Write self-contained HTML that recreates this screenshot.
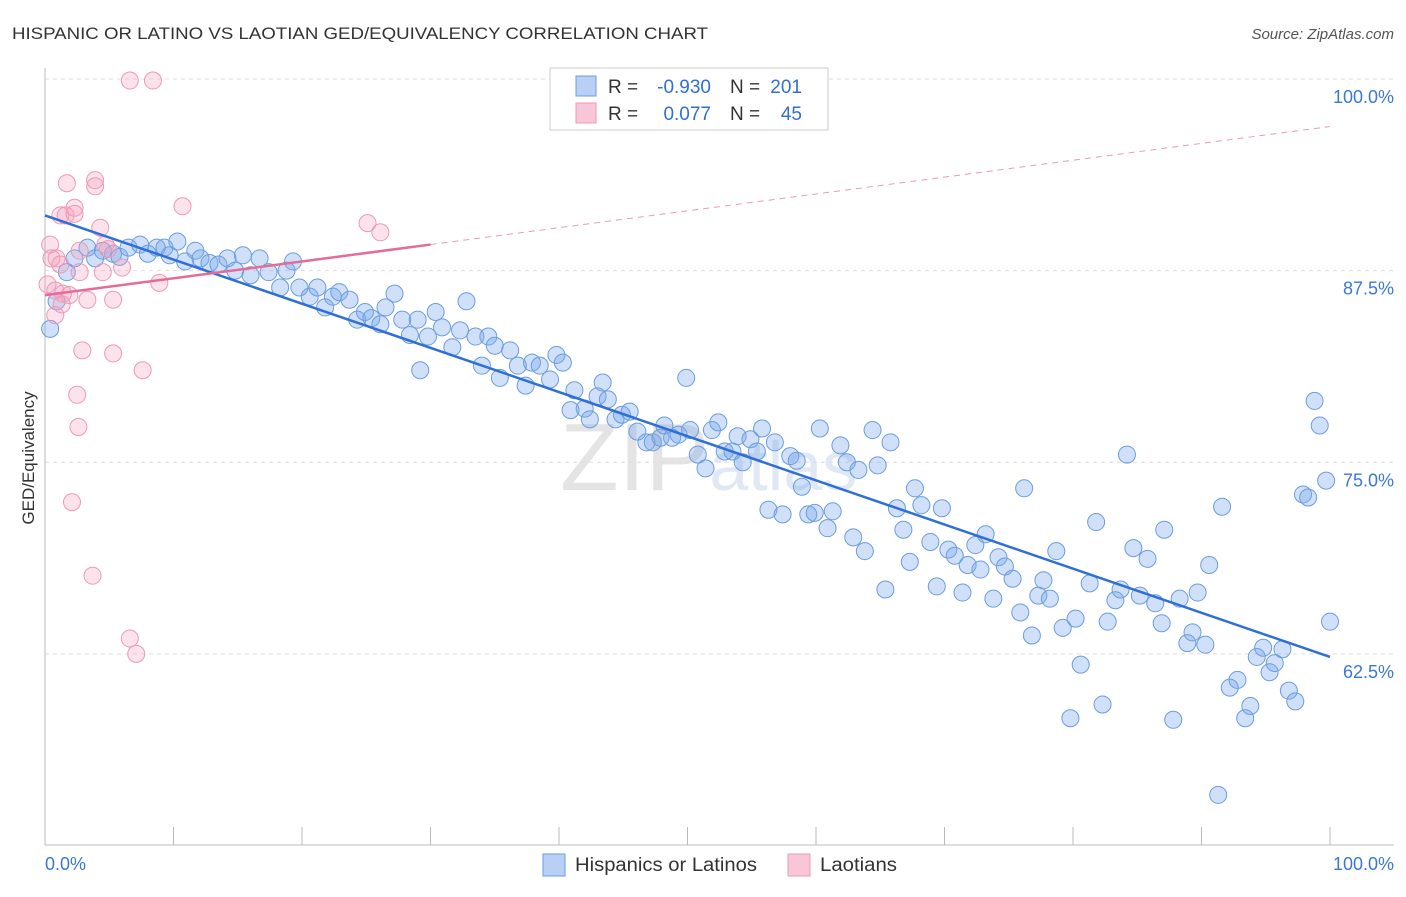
<!DOCTYPE html>
<html><head><meta charset="utf-8"><style>
body{margin:0;background:#fff;font-family:"Liberation Sans",sans-serif;}
svg text{font-family:"Liberation Sans",sans-serif;}
</style></head><body>
<svg id="chart" width="1406" height="892">
<text x="12" y="39" font-size="17" fill="#333" textLength="696" lengthAdjust="spacingAndGlyphs">HISPANIC OR LATINO VS LAOTIAN GED/EQUIVALENCY CORRELATION CHART</text>
<text x="1394" y="39" font-size="15" fill="#555" font-style="italic" text-anchor="end">Source: ZipAtlas.com</text>
<text x="560" y="490" font-size="96" fill="#e4e4e4" font-family="Liberation Serif">ZIP<tspan fill="#dfe8f4" font-family="Liberation Sans" font-size="70">atlas</tspan></text>
<g id="grid"></g>
<g id="axes"></g>
<g id="pts"></g>
<g id="trend"></g>
<text transform="translate(34,458) rotate(-90)" font-size="17" fill="#333" text-anchor="middle">GED/Equivalency</text>
<text x="45" y="870" font-size="18" fill="#3a78d8">0.0%</text>
<text x="1394" y="870" font-size="18" fill="#3a78d8" text-anchor="end">100.0%</text>
<g>
<rect x="550" y="68" width="278" height="62" fill="#fff" stroke="#ccc"/>
<rect x="576" y="76" width="20" height="20" fill="#b7d0f3" stroke="#6b9de0"/>
<rect x="576" y="103" width="20" height="20" fill="#f8c6d6" stroke="#ec9ab5"/>
<text x="608" y="93" font-size="19" fill="#333">R =</text>
<text x="711" y="93" font-size="19" fill="#2f6fd6" text-anchor="end">-0.930</text>
<text x="730" y="93" font-size="19" fill="#333">N =</text>
<text x="802" y="93" font-size="19" fill="#2f6fd6" text-anchor="end">201</text>
<text x="608" y="120" font-size="19" fill="#333">R =</text>
<text x="711" y="120" font-size="19" fill="#2f6fd6" text-anchor="end">0.077</text>
<text x="730" y="120" font-size="19" fill="#333">N =</text>
<text x="802" y="120" font-size="19" fill="#2f6fd6" text-anchor="end">45</text>
</g>
<g>
<rect x="543" y="854" width="22" height="22" fill="#b7d0f3" stroke="#6b9de0"/>
<text x="575" y="871" font-size="19" fill="#333" textLength="182" lengthAdjust="spacingAndGlyphs">Hispanics or Latinos</text>
<rect x="788" y="854" width="22" height="22" fill="#f8c6d6" stroke="#ec9ab5"/>
<text x="820" y="871" font-size="19" fill="#333" textLength="77" lengthAdjust="spacingAndGlyphs">Laotians</text>
</g>
</svg>
<script>
const blueX=[0.4,0.9,1.7,2.3,3.3,3.9,4.5,5.3,5.8,6.5,7.4,8.0,8.7,9.3,9.7,10.3,10.9,11.7,12.1,12.8,13.5,14.2,14.8,15.4,16.0,16.7,17.4,18.3,18.8,19.3,19.8,20.6,21.2,21.8,22.4,22.9,23.7,24.3,24.9,25.4,26.1,26.5,27.2,27.8,28.4,29.2,29.0,29.8,30.4,30.9,31.7,32.3,32.8,33.5,34.0,34.5,35.0,35.4,36.2,36.8,37.4,37.9,38.5,39.3,39.8,40.3,40.9,41.2,42.0,42.4,43.0,43.4,43.8,44.4,44.9,45.5,46.1,46.8,47.3,47.9,48.2,48.8,49.3,49.9,50.2,50.8,51.4,51.9,52.4,52.9,53.5,53.9,54.3,54.9,55.4,55.8,56.3,56.8,57.4,58.0,58.5,58.9,59.4,59.9,60.3,60.9,61.3,61.9,62.4,62.9,63.3,63.8,64.4,64.8,65.4,65.8,66.3,66.8,67.3,67.7,68.2,68.9,69.4,69.8,70.3,70.8,71.4,71.8,72.4,72.8,73.2,73.8,74.2,74.7,75.3,75.9,76.2,76.8,77.3,77.7,78.2,78.7,79.2,79.8,80.2,80.6,81.3,81.8,82.3,82.7,83.3,83.7,84.2,84.7,85.2,85.8,86.4,86.9,87.1,87.8,88.3,88.9,89.3,89.7,90.3,90.6,91.3,91.6,92.2,92.8,93.4,93.8,94.3,94.8,95.3,95.7,96.3,96.8,97.3,97.9,98.3,98.8,99.2,99.7,100];
const blueY=[83.7,85.5,87.4,88.3,89.0,88.3,88.8,88.6,88.4,89.0,89.2,88.6,89.0,89.0,88.5,89.4,88.1,88.8,88.3,88.0,87.9,88.3,87.5,88.5,87.2,88.3,87.4,86.4,87.5,88.1,86.4,85.8,86.4,85.1,85.8,86.1,85.6,84.3,84.8,84.4,84.0,85.1,86.0,84.3,83.3,81.0,84.3,83.2,84.8,83.8,82.5,83.6,85.5,83.2,81.3,83.2,82.6,80.5,82.3,81.3,80.0,81.5,81.3,80.4,82.0,81.5,78.4,79.7,78.5,77.8,79.3,80.2,79.1,77.8,78.1,78.3,77.0,76.3,76.3,76.6,77.4,76.6,76.8,80.5,77.1,75.5,74.6,77.1,77.6,75.7,75.7,76.7,75.0,76.5,75.7,77.2,71.9,76.3,71.6,75.4,75.1,73.4,71.6,71.7,77.2,70.7,71.8,76.1,75.0,70.1,74.5,69.2,77.1,74.8,66.7,76.3,72.0,70.6,68.5,73.3,72.2,69.8,66.9,72.0,69.3,68.9,66.5,68.3,69.6,68.0,70.3,66.1,68.8,68.2,67.4,65.2,73.3,63.7,66.3,67.3,66.1,69.2,64.2,58.3,64.8,61.8,67.1,71.1,59.2,64.6,66.0,66.7,75.5,69.4,66.3,68.7,65.8,64.5,70.6,58.2,66.1,63.2,63.9,66.5,63.1,68.3,53.3,72.1,60.3,60.8,58.3,59.1,62.3,62.9,61.3,61.9,62.8,60.1,59.4,72.9,72.7,79.0,77.4,73.8,64.6];
const pinkX=[6.6,8.4,1.7,3.9,3.9,10.7,2.3,1.2,1.6,2.3,4.3,25.1,26.1,0.4,4.7,2.7,4.9,0.5,0.9,1.2,2.7,4.5,6.0,0.2,0.8,1.4,1.9,3.3,5.3,8.9,0.8,1.3,2.9,5.3,7.6,2.5,2.6,2.1,3.7,6.6,7.1];
const pinkY=[99.9,99.9,93.2,93.4,93.0,91.7,91.6,91.1,91.1,91.2,90.3,90.6,90.0,89.2,89.2,88.8,88.9,88.3,88.3,87.9,87.4,87.4,87.7,86.6,86.2,86.0,85.9,85.6,85.6,86.7,84.6,85.3,82.3,82.1,81.0,79.4,77.3,72.4,67.6,63.5,62.5];
const yTicks=[100,87.5,75,62.5];
const yTickLabels=["100.0%","87.5%","75.0%","62.5%"];
const xTicks=[0,10,20,30,40,50,60,70,80,90,100];
const blueTrend=[[0,91.1],[100,62.3]];
const pinkTrend=[[0,85.9],[30,89.2],[100,96.9]];
const NS='http://www.w3.org/2000/svg';
const xs=v=>45+v*12.85, ys=v=>79+(100-v)*15.33;
function mk(t,a,p){const e=document.createElementNS(NS,t);for(const k in a)e.setAttribute(k,a[k]);p.appendChild(e);return e;}
const grid=document.getElementById('grid'),axes=document.getElementById('axes'),pts=document.getElementById('pts'),tr=document.getElementById('trend');
yTicks.forEach((v,i)=>{
 const l=mk('line',{x1:45,x2:1394,y1:ys(v),y2:ys(v),stroke:'#ddd','stroke-dasharray':'4,4'},grid);
 
 
 const t=mk('text',{x:1394,y:ys(v)+24,'font-size':18,fill:'#3a78d8','text-anchor':'end'},grid);
 t.textContent=yTickLabels[i];
 
 
});
const xa=mk('line',{x1:45,x2:1394,y1:845,y2:845,stroke:'#bbb'},axes);


const ya=mk('line',{x1:45,x2:45,y1:68,y2:845,stroke:'#bbb'},axes);


xTicks.forEach(v=>{const t=mk('line',{x1:xs(v),x2:xs(v),y1:827,y2:845,stroke:'#bbb'},axes);
 
 });
blueX.forEach((x,i)=>{const c=mk('circle',{cx:xs(x),cy:ys(blueY[i]),r:8.5,fill:'rgba(120,165,235,0.35)',stroke:'#6b9de0','stroke-width':1},pts);
 
 });
pinkX.forEach((x,i)=>{const c=mk('circle',{cx:xs(x),cy:ys(pinkY[i]),r:8.5,fill:'rgba(245,160,190,0.3)',stroke:'#ec9ab5','stroke-width':1},pts);
 
 });
const bl=mk('line',{x1:xs(blueTrend[0][0]),y1:ys(blueTrend[0][1]),x2:xs(blueTrend[1][0]),y2:ys(blueTrend[1][1]),stroke:'#2f6fd6','stroke-width':2.5},tr);


const pl=mk('line',{x1:xs(pinkTrend[0][0]),y1:ys(pinkTrend[0][1]),x2:xs(pinkTrend[1][0]),y2:ys(pinkTrend[1][1]),stroke:'#e66b98','stroke-width':2.5},tr);


const pd=mk('line',{x1:xs(pinkTrend[1][0]),y1:ys(pinkTrend[1][1]),x2:xs(pinkTrend[2][0]),y2:ys(pinkTrend[2][1]),stroke:'#e99ab5','stroke-width':1,'stroke-dasharray':'6,5'},tr);


</script>
</body></html>
